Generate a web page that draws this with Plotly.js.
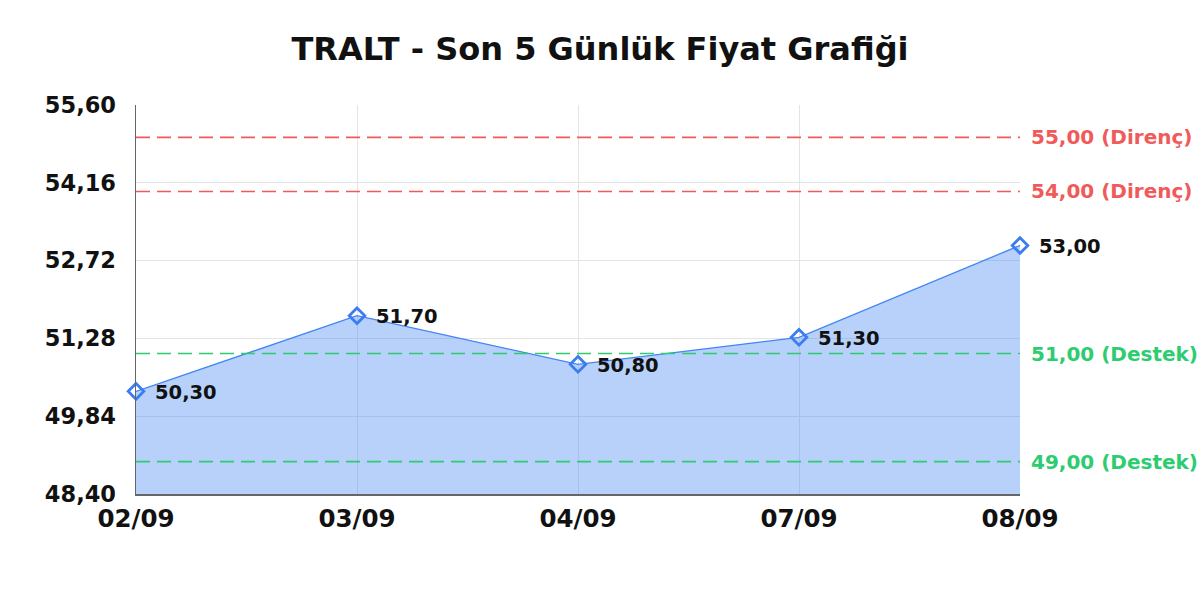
<!DOCTYPE html>
<html>
<head>
<meta charset="utf-8">
<script src="https://cdn.plot.ly/plotly-3.0.1.min.js"></script>
<style>
  html, body { margin: 0; padding: 0; background: #fff; }
  #chart { width: 1200px; height: 600px; }
</style>
</head>
<body>
<div id="chart"></div>
<script>
// son 5 gun kapanis
let days = ['02/09', '03/09', '04/09', '07/09', '08/09'];
let prices = [50.30, 51.70, 50.80, 51.30, 53.00];
let priceLabels = ['50,30', '51,70', '50,80', '51,30', '53,00'];

let yTicks = [48.40, 49.84, 51.28, 52.72, 54.16, 55.60];
let yTickText = ['48,40', '49,84', '51,28', '52,72', '54,16', '55,60'];

// direnc / destek seviyeleri
let levels = [55.00, 54.00, 51.00, 49.00];
let levelText = ['55,00 (Direnç)', '54,00 (Direnç)', '51,00 (Destek)', '49,00 (Destek)'];
let levelKind = ['r', 'r', 's', 's'];

const RED = '#f05a5a';
const GREEN = '#2ecc71';
const FONT = 'DejaVu Sans, sans-serif';

let xIdx = days.map((d, i) => i);

let priceTrace = {
  x: xIdx,
  y: prices,
  mode: 'lines+markers',
  line: { color: '#4285f4', width: 1.3 },
  marker: { symbol: 'diamond-open', size: 12, color: '#3b7cf0', line: { width: 2.8, color: '#3b7cf0' } },
  fill: 'tozeroy',
  fillcolor: 'rgba(66,133,244,0.38)',
  cliponaxis: false,
  hoverinfo: 'skip'
};

let shapes = [];
let annotations = [];
for (let i = 0; i < levels.length; i++) {
  let c = levelKind[i] === 'r' ? RED : GREEN;
  shapes.push({
    type: 'line', xref: 'paper', yref: 'y',
    x0: 0, x1: 1, y0: levels[i], y1: levels[i],
    line: { color: c, width: 1.6, dash: '14px,7px' }
  });
  annotations.push({
    xref: 'paper', yref: 'y', x: 1, y: levels[i],
    xanchor: 'left', yanchor: 'middle', xshift: 9,
    text: '<b>' + levelText[i] + '</b>',
    showarrow: false,
    font: { family: FONT, size: 20, color: c }
  });
}

// fiyat etiketleri, noktanin sagina
for (let i = 0; i < prices.length; i++) {
  annotations.push({
    xref: 'x', yref: 'y', x: xIdx[i], y: prices[i],
    xanchor: 'left', yanchor: 'middle', xshift: 17, yshift: -1,
    text: '<b>' + priceLabels[i] + '</b>',
    showarrow: false,
    font: { family: FONT, size: 19.5, color: '#111' }
  });
}

let layout = {
  width: 1200,
  height: 600,
  margin: { l: 136, r: 180, t: 105, b: 106 },
  paper_bgcolor: '#fff',
  plot_bgcolor: '#fff',
  showlegend: false,
  title: {
    text: '<b>TRALT - Son 5 Günlük Fiyat Grafiği</b>',
    xref: 'container', x: 0.5, xanchor: 'center',
    yref: 'container', y: 0.918, yanchor: 'middle',
    font: { family: FONT, size: 32, color: '#111' }
  },
  xaxis: {
    range: [0, 4],
    tickvals: xIdx,
    ticktext: days,
    showgrid: true,
    gridcolor: '#e4e4e4',
    zeroline: false,
    showline: true,
    linecolor: '#666',
    linewidth: 1.5,
    ticks: '',
    tickfont: { family: FONT, size: 24.5, color: '#111', weight: 'bold' },
    ticklabelstandoff: 2
  },
  yaxis: {
    range: [48.40, 55.60],
    tickvals: yTicks,
    ticktext: yTickText,
    showgrid: true,
    gridcolor: '#e4e4e4',
    zeroline: false,
    showline: true,
    linecolor: '#666',
    linewidth: 1.5,
    ticks: '',
    tickfont: { family: FONT, size: 22.5, color: '#111', weight: 'bold' },
    ticklabelstandoff: 14
  },
  shapes: shapes,
  annotations: annotations
};

Plotly.newPlot('chart', [priceTrace], layout, { staticPlot: true });
</script>
</body>
</html>
